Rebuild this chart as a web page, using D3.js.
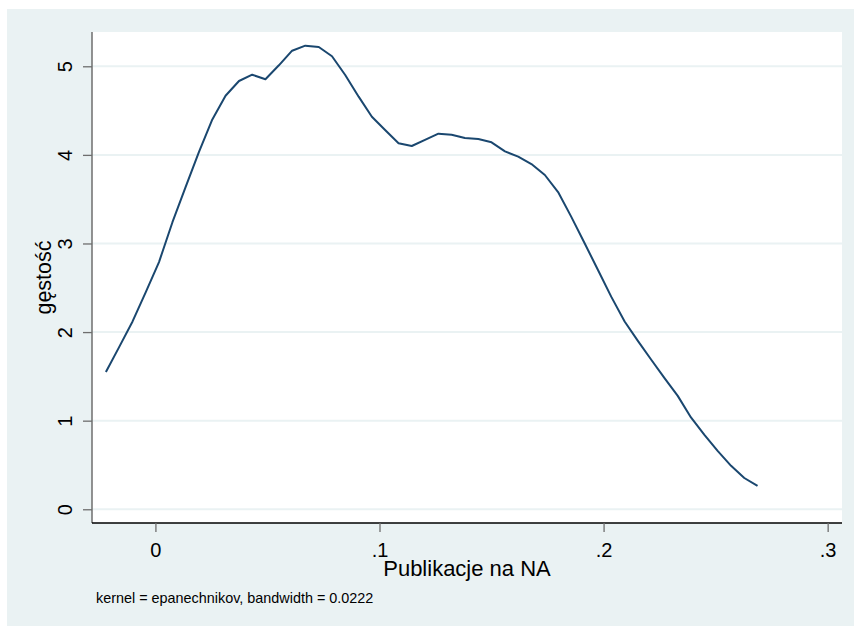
<!DOCTYPE html>
<html>
<head>
<meta charset="utf-8">
<script src="https://cdn.jsdelivr.net/npm/d3@7"></script>
<style>
  body { margin: 0; background: #ffffff; }
  svg { display: block; font-family: "Liberation Sans", Arial, sans-serif; }
</style>
</head>
<body>
<div id="chart"></div>
<script>
// oszacowanie gęstości jądrowej (50 punktów)
const xValues = [
  -0.0221, -0.0162, -0.0102, -0.0043, 0.0016, 0.0076, 0.0135, 0.0194, 0.0254, 0.0313,
  0.0373, 0.0432, 0.0491, 0.0551, 0.0610, 0.0669, 0.0729, 0.0788, 0.0847, 0.0907,
  0.0966, 0.1025, 0.1085, 0.1144, 0.1203, 0.1263, 0.1322, 0.1381, 0.1441, 0.1500,
  0.1560, 0.1619, 0.1678, 0.1738, 0.1797, 0.1856, 0.1916, 0.1975, 0.2034, 0.2094,
  0.2153, 0.2212, 0.2272, 0.2331, 0.2390, 0.2450, 0.2509, 0.2569, 0.2628, 0.2687
];
const densityValues = [
  1.55, 1.83, 2.12, 2.45, 2.79, 3.24, 3.64, 4.03, 4.40, 4.667,
  4.834, 4.905, 4.853, 5.011, 5.176, 5.233, 5.218, 5.113, 4.902, 4.657,
  4.431, 4.28, 4.131, 4.10, 4.17, 4.239, 4.228, 4.191, 4.18, 4.142,
  4.04, 3.98, 3.897, 3.773, 3.58, 3.30, 3.00, 2.70, 2.40, 2.12,
  1.90, 1.69, 1.48, 1.28, 1.036, 0.84, 0.66, 0.49, 0.353, 0.263
];
const xTicks = [0, 0.1, 0.2, 0.3];
const yTicks = [0, 1, 2, 3, 4, 5];
const xTitle = "Publikacje na NA";
const yTitle = "gęstość";
const note = "kernel = epanechnikov, bandwidth = 0.0222";

const width = 854, height = 627;
const plot = { left: 92, right: 842, top: 32, bottom: 523 };

const svg = d3.select("#chart").append("svg")
  .attr("width", width)
  .attr("height", height);

// tło wykresu
svg.append("rect")
  .attr("x", 7).attr("y", 9)
  .attr("width", width - 7).attr("height", height - 10)
  .attr("fill", "#eaf2f3");

svg.append("rect")
  .attr("x", plot.left).attr("y", plot.top)
  .attr("width", plot.right - plot.left).attr("height", plot.bottom - plot.top)
  .attr("fill", "#ffffff");

const x = d3.scaleLinear().domain([-0.0283, 0.3064]).range([plot.left, plot.right]);
const y = d3.scaleLinear().domain([-0.155, 5.387]).range([plot.bottom, plot.top]);

// linie siatki
svg.append("g")
  .selectAll("line")
  .data(yTicks)
  .enter().append("line")
  .attr("x1", plot.left).attr("x2", plot.right)
  .attr("y1", d => y(d)).attr("y2", d => y(d))
  .attr("stroke", "#eaf2f3")
  .attr("stroke-width", 2);

// oś Y
const yAxis = svg.append("g")
  .attr("transform", `translate(${plot.left},0)`)
  .call(d3.axisLeft(y).tickValues(yTicks).tickSize(9).tickFormat(d3.format("d")));
yAxis.select(".domain").attr("stroke", "#6e6e6e").attr("stroke-width", 1.5)
  .attr("d", `M0,${plot.top}V${plot.bottom}`);
yAxis.selectAll(".tick line").attr("stroke", "#6e6e6e").attr("stroke-width", 1.3);
yAxis.selectAll(".tick text")
  .attr("x", null).attr("dy", null)
  .attr("transform", "translate(-20,0) rotate(-90)")
  .attr("text-anchor", "middle")
  .attr("font-size", 20)
  .attr("font-family", "Liberation Sans, Arial, sans-serif")
  .attr("fill", "#000");

// oś X
const fmtX = d => d === 0 ? "0" : d3.format(".1f")(d).replace(/^0/, "");
const xAxis = svg.append("g")
  .attr("transform", `translate(0,${plot.bottom})`)
  .call(d3.axisBottom(x).tickValues(xTicks).tickSize(9).tickFormat(fmtX));
xAxis.select(".domain").attr("stroke", "#000").attr("stroke-width", 1.5)
  .attr("d", `M${plot.left},0H${plot.right}`);
xAxis.selectAll(".tick line").attr("stroke", "#6e6e6e").attr("stroke-width", 1.3);
xAxis.selectAll(".tick text")
  .attr("y", 34).attr("dy", null)
  .attr("font-size", 20)
  .attr("font-family", "Liberation Sans, Arial, sans-serif")
  .attr("fill", "#000");

// krzywa gęstości
const points = xValues.map((v, i) => [v, densityValues[i]]);
svg.append("path")
  .datum(points)
  .attr("fill", "none")
  .attr("stroke", "#1a476f")
  .attr("stroke-width", 2)
  .attr("stroke-linejoin", "round")
  .attr("d", d3.line().x(d => x(d[0])).y(d => y(d[1])));

// tytuły osi
svg.append("text")
  .attr("x", (plot.left + plot.right) / 2)
  .attr("y", 576)
  .attr("text-anchor", "middle")
  .attr("font-size", 22)
  .text(xTitle);

svg.append("text")
  .attr("transform", `translate(51,${(plot.top + plot.bottom) / 2}) rotate(-90)`)
  .attr("text-anchor", "middle")
  .attr("font-size", 21.5)
  .text(yTitle);

svg.append("text")
  .attr("x", 96)
  .attr("y", 603)
  .attr("font-size", 14.4)
  .text(note);
</script>
</body>
</html>
